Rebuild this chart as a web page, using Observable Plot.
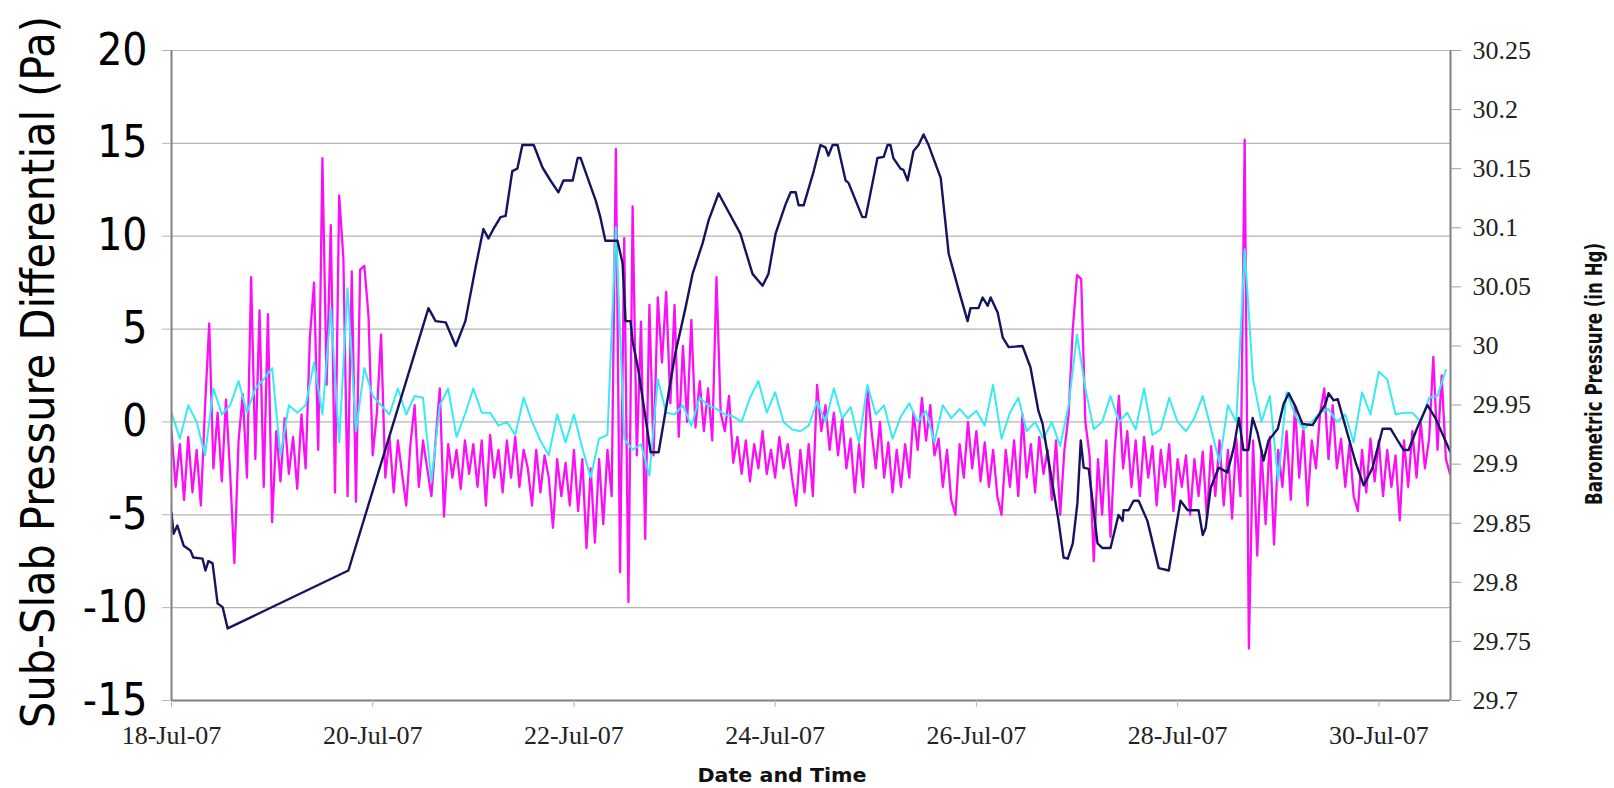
<!DOCTYPE html>
<html><head><meta charset="utf-8">
<script src="https://cdn.jsdelivr.net/npm/d3@7"></script>
<script src="https://cdn.jsdelivr.net/npm/@observablehq/plot@0.6"></script>
<style>
html,body{margin:0;padding:0;background:#fff;}
#chart{width:1614px;height:788px;overflow:hidden;}
</style></head><body><div id="chart"></div>
<script>
// ---- data ----
const startUTC = Date.UTC(2007, 6, 18);
const HOUR = 3600e3;
const endHours = 305.1;
const xTickDays = [18, 20, 22, 24, 26, 28, 30];
const leftTicks = [-15, -10, -5, 0, 5, 10, 15, 20];
const rightTicks = [29.7, 29.75, 29.8, 29.85, 29.9, 29.95, 30, 30.05, 30.1, 30.15, 30.2, 30.25];

// Sub-slab differential, sensor 1 (magenta), hourly values (Pa)
const magenta = [
 -0.5, -3.5, -1.2, -4.2, -0.8, -3.8, -1.5, -4.5, 0.8, 5.3, -2.5, 0.5,
 -3.2, 1.2, -2.8, -7.6, -1.0, 1.5, -3.0, 7.8, -2.0, 6.0, -3.5, 5.8,
 -5.4, -0.5, -3.2, 0.2, -2.8, -0.8, -3.6, 0.4, -2.5, 4.5, 7.5, -1.5,
 14.2, 2.0, 10.6, -3.8, 12.2, 8.8, -4.0, 8.1, -4.3, 8.2, 8.4, 5.7,
 -1.8, 0.5, 4.7, -3.0, -0.8, -3.8, -1.0, -2.8, -4.5, -1.2, 0.9, -3.5,
 -1.0, -2.5, -4.0, -1.0, 1.8, -5.1, -1.2, -3.0, -1.5, -3.6, -1.0, -2.8,
 -1.2, -3.5, -1.0, -4.5, -0.7, -3.0, -1.5, -3.8, -1.0, -3.0, -0.8, -3.5,
 -1.5, -2.5, -4.5, -1.5, -3.8, -1.8, -3.0, -5.7, -2.0, -4.0, -2.2, -4.5,
 -1.5, -4.8, -2.0, -6.8, -2.5, -6.5, -2.0, -5.5, -1.5, -4.0, 14.7, -8.1,
 9.9, -9.7, 11.6, -1.8, 5.4, -6.3, 6.3, -1.8, 6.7, 3.2, 7.0, 1.0,
 6.3, -0.8, 4.1, 0.0, 5.5, -0.3, 2.2, -0.5, 1.8, -1.0, 7.8, 0.5,
 -0.5, 1.4, -2.2, -0.8, -2.8, -1.0, -3.2, -1.2, -2.5, -0.5, -2.8, -1.5,
 -3.0, -0.8, -2.5, -1.2, -3.0, -4.5, -1.5, -3.8, -1.2, -4.0, 2.0, -0.5,
 0.9, -1.5, 0.5, -1.8, 0.2, -2.5, -0.9, -3.8, -1.2, -3.5, 1.8, -0.5,
 -2.5, 0.0, -3.0, -1.1, -3.8, -1.5, -3.5, -1.2, -3.0, 0.5, -1.5, 1.3,
 -1.0, 0.9, -1.8, -0.9, -3.5, -1.5, -4.2, -5.0, -1.2, -3.0, 0.0, -2.5,
 -0.5, -3.2, -1.1, -3.5, -1.5, -4.0, -5.0, -1.5, -3.5, -1.0, -4.0, 0.4,
 -3.0, -1.2, -3.8, -0.8, -2.8, -1.5, -4.2, -1.0, -5.0, -1.5, 0.4, 5.0,
 7.9, 7.7, 0.0, -1.8, -7.5, -2.0, -5.0, -1.0, -6.2, -1.5, 1.4, -2.5,
 -0.5, -3.5, -1.0, -4.0, -0.8, -3.0, -1.3, -4.5, -1.5, -3.5, -1.2, -4.8,
 -2.0, -3.5, -1.8, -5.0, -2.0, -4.0, -1.6, -5.2, -1.3, -4.0, -1.0, -4.5,
 -1.5, -5.2, -0.9, -4.0, 15.2, -12.2, -1.0, -7.2, -1.5, -5.5, -0.8, -6.6,
 -1.5, -3.5, -0.5, -4.2, 0.9, -3.0, -0.3, -4.5, -1.0, -2.5, 0.5, 1.8,
 -2.0, 0.9, -2.5, -0.9, -3.5, -1.2, -4.0, -4.8, -1.5, -3.8, -0.9, -3.2,
 -1.0, -4.0, -1.5, -3.5, -1.8, -5.3, -1.0, -3.5, -0.5, -3.0, 0.0, -2.5,
 -0.9, 3.5, -1.5, 2.5, -2.0, -2.8
];

// Sub-slab differential, sensor 2 (cyan), every 2 hours (Pa)
const cyan = [
 0.5, -0.9, 0.9, 0.0, -1.8, 1.8, 0.4, 0.9, 2.2, 0.5, 1.8, 2.3,
 2.9, -1.8, 0.9, 0.5, 0.9, 3.2, 0.4, 6.1, -1.1, 7.2, -0.5, 2.9,
 1.4, 0.9, 0.4, 1.8, 0.4, 1.4, 1.3, -3.2, 0.9, 1.8, -0.8, 0.4,
 1.8, 0.5, 0.5, -0.2, 0.0, -0.7, 1.3, 0.0, -1.0, -1.8, 0.4, -1.1,
 0.4, -1.4, -3.0, -0.9, -0.7, 10.5, -0.9, -1.5, -1.2, -2.9, 2.3, 0.5,
 0.4, 0.9, -0.2, 1.3, 0.9, 0.7, 0.4, 0.3, 0.0, 1.3, 2.2, 0.5,
 1.6, 0.0, -0.4, -0.5, -0.2, 1.1, 0.0, 1.8, 0.2, 0.8, -1.1, 2.0,
 0.4, 0.9, -0.9, 0.3, 1.0, 0.0, 0.6, -1.1, 0.9, 0.2, 0.7, 0.2,
 0.6, -0.2, 2.0, -0.9, 0.5, 1.3, -0.5, 0.0, -0.9, 0.0, -1.3, 0.9,
 4.7, 1.8, -0.4, 0.0, 1.4, 0.0, 0.5, -0.4, 1.8, -0.7, -0.4, 1.3,
 0.0, -0.5, 0.2, 1.4, -0.4, -2.2, 0.9, 0.0, 9.3, 2.3, 0.0, 1.4,
 -3.2, 1.6, 0.4, -0.4, 0.0, 0.5, 0.7, 0.0, 0.4, -1.1, 1.6, 0.4,
 2.7, 2.3, 0.4, 0.5, 0.5, 0.0, 1.3, 1.4, 2.8
];

// Barometric pressure: [hours since 18-Jul-07 00:00, in Hg]
const baro = [
 [0, 29.859], [0.5, 29.841], [1.4, 29.848], [2.9, 29.831], [4.5, 29.827], [5.2, 29.821],
 [7.4, 29.820], [8.1, 29.810], [8.8, 29.818], [9.8, 29.816], [11.0, 29.782], [12.2, 29.779],
 [13.4, 29.761], [42.2, 29.810], [61.3, 30.032], [63.0, 30.021], [65.4, 30.020],
 [67.8, 30.000], [70.1, 30.021], [72.5, 30.066], [74.4, 30.099], [75.6, 30.091], [76.8, 30.099],
 [78.5, 30.109], [79.7, 30.110], [81.3, 30.148], [82.5, 30.150], [83.7, 30.170], [86.4, 30.170],
 [88.5, 30.151], [90.4, 30.140], [92.3, 30.130], [93.5, 30.140], [95.7, 30.140], [96.9, 30.159],
 [97.6, 30.159], [101.2, 30.123], [102.3, 30.109], [103.5, 30.089], [106.4, 30.089], [107.6, 30.070],
 [108.3, 30.021], [109.5, 30.021], [110.0, 30.004], [111.4, 29.979], [114.3, 29.910], [116.2, 29.910],
 [120.2, 29.994], [122.6, 30.032], [124.3, 30.061], [126.7, 30.087], [128.1, 30.106], [130.5, 30.129],
 [135.7, 30.095], [138.6, 30.061], [141.0, 30.051], [142.4, 30.061], [144.1, 30.095], [146.5, 30.120],
 [147.7, 30.130], [148.9, 30.130], [149.6, 30.119], [150.8, 30.119], [153.2, 30.148], [154.8, 30.170],
 [156.0, 30.168], [156.7, 30.161], [157.7, 30.170], [158.9, 30.170], [160.8, 30.140], [161.5, 30.138],
 [164.8, 30.109], [165.6, 30.109], [168.4, 30.159], [169.9, 30.160], [170.8, 30.170], [171.5, 30.170],
 [172.2, 30.159], [173.9, 30.150], [174.6, 30.149], [175.6, 30.140], [177.0, 30.165], [178.2, 30.170],
 [179.4, 30.179], [180.6, 30.170], [183.5, 30.142], [185.4, 30.078], [187.8, 30.047], [189.9, 30.021],
 [190.6, 30.032], [192.5, 30.032], [193.5, 30.041], [194.7, 30.034], [195.4, 30.041], [197.1, 30.028],
 [198.3, 30.007], [199.7, 29.999], [203.0, 30.000], [204.9, 29.982], [206.8, 29.945], [207.8, 29.934],
 [211.6, 29.852], [212.8, 29.821], [213.8, 29.820], [215.0, 29.833], [216.1, 29.867], [216.9, 29.920],
 [217.6, 29.897], [218.8, 29.896], [220.9, 29.833], [222.1, 29.829], [224.0, 29.829], [225.9, 29.857],
 [226.9, 29.852], [227.1, 29.861], [228.3, 29.861], [229.5, 29.869], [230.7, 29.869], [232.8, 29.852],
 [235.5, 29.812], [237.9, 29.810], [240.7, 29.869], [242.4, 29.861], [245.0, 29.861], [246.0, 29.840],
 [246.7, 29.846], [247.9, 29.880], [249.8, 29.897], [251.9, 29.893], [253.4, 29.914], [254.6, 29.939],
 [255.7, 29.912], [256.9, 29.912], [257.9, 29.939], [259.1, 29.926], [260.5, 29.903], [261.7, 29.920],
 [263.9, 29.930], [265.3, 29.951], [266.5, 29.960], [268.2, 29.948], [269.8, 29.934], [272.2, 29.933],
 [273.6, 29.941], [275.3, 29.951], [276.0, 29.960], [277.2, 29.954], [278.2, 29.955], [282.5, 29.901],
 [284.4, 29.882], [286.5, 29.897], [288.9, 29.930], [290.8, 29.930], [292.5, 29.920], [293.9, 29.912],
 [295.1, 29.912], [297.2, 29.931], [299.6, 29.950], [301.5, 29.939], [305.1, 29.910]
];

// ---- build ----
const t = h => new Date(startUTC + h * HOUR);
const toPa = b => -15 + (b - 29.7) / 0.55 * 35;
const fromPa = p => 29.7 + (p + 15) / 35 * 0.55;
const magData = magenta.map((v, i) => ({t: t(i), v}));
const cyanData = cyan.map((v, i) => ({t: t(i * 2), v}));
const baroData = baro.map(([h, b]) => ({t: t(h), v: toPa(b)}));
const xTicks = xTickDays.map(d => new Date(Date.UTC(2007, 6, d)));
const x0 = t(0), x1 = t(endHours);
const months = ["Jan","Feb","Mar","Apr","May","Jun","Jul","Aug","Sep","Oct","Nov","Dec"];

const chart = Plot.plot({
  width: 1614, height: 788,
  marginLeft: 171, marginRight: 164, marginTop: 50, marginBottom: 88,
  style: {background: "#fff", overflow: "visible"},
  x: {type: "utc", domain: [x0, x1]},
  y: {domain: [-15, 20]},
  marks: [
    Plot.ruleY(leftTicks, {stroke: "#b4b4b4", strokeWidth: 1.2}),
    Plot.lineY(magData, {x: "t", y: "v", stroke: "#fb10f5", strokeWidth: 2.3, clip: true}),
    Plot.lineY(cyanData, {x: "t", y: "v", stroke: "#38eaf2", strokeWidth: 2, clip: true}),
    Plot.lineY(baroData, {x: "t", y: "v", stroke: "#15155f", strokeWidth: 2.4, clip: true}),
    Plot.ruleX([x0, x1], {stroke: "#808080", strokeWidth: 2}),
    Plot.ruleY([-15], {stroke: "#808080", strokeWidth: 2}),
    Plot.axisY(leftTicks, {anchor: "left", tickSize: 9, tickPadding: 15, stroke: "#b4b4b4",
      tickFormat: d => String(d),
      fontSize: 44, fontFamily: "DejaVu Sans Condensed", fill: "#000", label: null}),
    Plot.axisY(rightTicks.map(toPa), {anchor: "right", tickSize: 10, tickPadding: 12, stroke: "#a0a0a0",
      tickFormat: p => String(+fromPa(p).toFixed(2)),
      fontSize: 26, fontFamily: "Liberation Serif", fill: "#222", label: null}),
    Plot.axisX(xTicks, {anchor: "bottom", tickSize: 7, tickPadding: 18, stroke: "#b4b4b4",
      tickFormat: d => `${d.getUTCDate()}-${months[d.getUTCMonth()]}-07`,
      fontSize: 26, fontFamily: "Liberation Serif", fill: "#222", label: null})
  ]
});
document.getElementById("chart").appendChild(chart);

const svg = d3.select(chart);
svg.append("text")
  .attr("transform", "translate(54,372) rotate(-90)")
  .attr("text-anchor", "middle")
  .attr("textLength", 712).attr("lengthAdjust", "spacingAndGlyphs")
  .style("font-family", "'DejaVu Sans Condensed'").style("font-size", "47px").style("fill", "#000")
  .text("Sub-Slab Pressure Differential (Pa)");
svg.append("text")
  .attr("transform", "translate(1602,374) rotate(-90)")
  .attr("text-anchor", "middle")
  .attr("textLength", 262).attr("lengthAdjust", "spacingAndGlyphs")
  .style("font-family", "'DejaVu Sans'").style("font-weight", "bold").style("font-size", "23px").style("fill", "#111")
  .text("Barometric Pressure (in Hg)");
svg.append("text")
  .attr("x", 782).attr("y", 782)
  .attr("text-anchor", "middle")
  .attr("textLength", 169).attr("lengthAdjust", "spacingAndGlyphs")
  .style("font-family", "'DejaVu Sans'").style("font-weight", "bold").style("font-size", "20px").style("fill", "#111")
  .text("Date and Time");
</script></body></html>
